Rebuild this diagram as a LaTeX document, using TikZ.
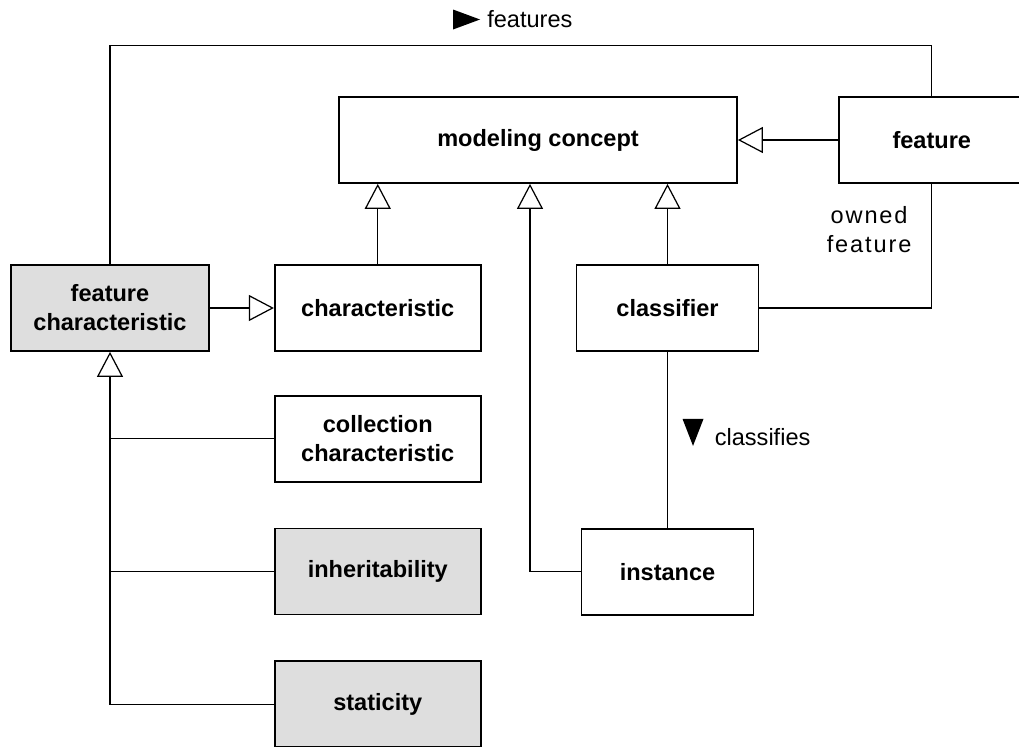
\documentclass[tikz,border=0pt]{standalone}
\usepackage{fontspec}
\setmainfont{Liberation Sans}
\newfontfamily\spacedfont[LetterSpace=8]{Liberation Sans}
\usetikzlibrary{positioning}
\usetikzlibrary{arrows.meta, calc}
\definecolor{mylightgray}{RGB}{222, 222, 222}

\begin{document}
\begin{tikzpicture}[
            node distance=0.9cm and 1.28cm,
            font=\fontsize{13.4}{16.5}\selectfont,
            box/.style={
                rectangle,
                draw=black,
                fill=#1,
                line width=1pt,
                minimum width=4.12cm,
                minimum height=1.72cm,
                align=center,
                inner sep=0pt,
                font=\fontsize{13.4}{16.5}\selectfont\bfseries
            },
            box/.default=white,
            link/.style={line width=0.7pt},
            gen/.style={link, -{Triangle[open, length=0.5cm, width=0.52cm]}},
            lbl/.style={inner sep=0pt}
        ]

            \useasboundingbox (0,0) rectangle (20.38,-14.92);

            % Nodes
            \node[box, minimum width=7.96cm] (concept) at (10.76,-2.8) {modeling concept};
            \node[box, right=2.0cm of concept, minimum width=3.72cm] (feature) {feature};
            \node[box=mylightgray, minimum width=3.96cm] (featchar) at (2.2,-6.16) {feature\\characteristic};
            \node[box, right=of featchar] (char) {characteristic};
            \node[box, right=1.88cm of char, minimum width=3.64cm] (classifier) {classifier};
            \node[box, below=0.86cm of char] (collchar) {collection\\characteristic};
            \node[box=mylightgray, below=of collchar] (inherit) {inheritability};
            \node[box=mylightgray, below=of inherit] (staticity) {staticity};
            \node[box, below=3.52cm of classifier, minimum width=3.44cm] (instance) {instance};

            % Labels
            \node[lbl, anchor=west] (featlbl) at (9.74,-0.39) {features};
            \fill ([xshift=-0.14cm]featlbl.west) -- ++(-0.54,0.2) -- ++(0,-0.4) -- cycle;

            \path (classifier.south) -- (instance.north) coordinate[midway] (clsmid);
            \node[lbl, right=0.94cm of clsmid, yshift=0.06cm] (clslbl) {classifies};
            \fill ([shift={(-0.64,0.36)}]clslbl.west) -- ++(0.42,0) -- ++(-0.21,-0.54) -- cycle;

            \node[lbl, anchor=north east, align=center, font=\fontsize{13.4}{16.5}\selectfont\spacedfont] (ownlbl)
                at ([shift={(-0.4,-0.44)}]feature.south) {owned\\feature};

            % Arrows
            \draw[gen] (feature) -- (concept);
            \draw[gen] (char.north) -- (char.north |- concept.south);
            \draw[gen] (classifier.north) -- (classifier.north |- concept.south);
            \draw[gen] (instance.west) -| ([xshift=-0.16cm]concept.south);
            \draw[gen] (featchar) -- (char);
            \draw[gen] (staticity.west) -| (featchar.south);
            \draw[link] (collchar.west) -- (collchar.west -| featchar.south);
            \draw[link] (inherit.west) -- (inherit.west -| featchar.south);
            \draw[link] (classifier) -- (instance);
            \draw[link] (classifier.east) -| (feature.south);
            \coordinate (featuretop) at ([yshift=1.02cm]feature.north);
            \draw[link] (featchar.north) |- (featuretop) -- (feature.north);
        \end{tikzpicture}
\end{document}
